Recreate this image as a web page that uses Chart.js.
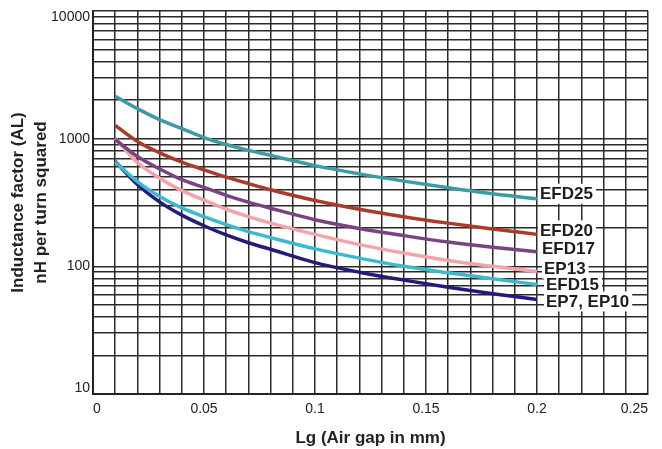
<!DOCTYPE html>
<html>
<head>
<meta charset="utf-8">
<script src="https://cdn.jsdelivr.net/npm/chart.js@4"></script>
<style>
  html, body { margin: 0; padding: 0; background: #ffffff; }
  #wrap { width: 662px; height: 449px; position: relative; }
</style>
</head>
<body>
<div id="wrap"><canvas id="c" width="662" height="449"></canvas></div>
<script>
// ---- Data ----
const airGap = [0.01, 0.02, 0.03, 0.04, 0.05, 0.06, 0.07, 0.08, 0.10, 0.12, 0.14, 0.16, 0.18, 0.20];
const seriesNames = ['EFD25', 'EFD20', 'EFD17', 'EP13', 'EFD15', 'EP7, EP10'];
const efd25 = [2150, 1720, 1410, 1200, 1020, 900, 810, 740, 615, 530, 465, 412, 370, 338];
const efd20 = [1270, 950, 775, 655, 570, 500, 445, 398, 328, 280, 245, 218, 196, 178];
const efd17 = [985, 725, 580, 477, 415, 360, 318, 285, 232, 198, 174, 155, 141, 130];
const ep13  = [1005, 650, 490, 392, 330, 280, 245, 218, 178, 148, 127, 111, 100, 91];
const efd15 = [660, 460, 352, 287, 245, 212, 187, 168, 137, 116, 100, 89, 80, 72];
const ep7ep10 = [665, 438, 320, 252, 208, 176, 153, 136, 107, 90, 78, 68.5, 61, 55];
const xTickLabels = ['0', '0.05', '0.1', '0.15', '0.2', '0.25'];
const yTickLabels = ['10', '100', '1000', '10000'];
const xTitle = 'Lg (Air gap in mm)';
const yTitle = ['Inductance factor (AL)', 'nH per turn squared'];

const seriesValues = [efd25, efd20, efd17, ep13, efd15, ep7ep10];
const seriesColors = ['#3d9ba7', '#a93b2a', '#7b4283', '#f4a3aa', '#3cb9cd', '#221b7c'];

// grid positions: every 0.01 on x, 1..9 x 10^n on y (log paper)
const xGrid = [];
for (let i = 0; i <= 25; i++) xGrid.push(+(i / 100).toFixed(2));
const yGrid = [];
for (let e = 1; e <= 3; e++) for (let m = 1; m <= 9; m++) yGrid.push(m * Math.pow(10, e));
yGrid.push(10000);

const FONT = "'Liberation Sans', Arial, Helvetica, sans-serif";

const endLabels = {
  id: 'endLabels',
  afterDatasetsDraw(chart, args, opts) {
    const ctx = chart.ctx;
    ctx.save();
    ctx.font = 'bold 17px ' + FONT;
    ctx.textBaseline = 'middle';
    const items = chart.data.datasets.map((ds, i) => {
      const meta = chart.getDatasetMeta(i);
      const pt = meta.data[meta.data.length - 1];
      return { text: ds.label, x: pt.x + opts.dx[i], y: pt.y + opts.dy[i], w: ctx.measureText(ds.label).width };
    });
    ctx.fillStyle = '#ffffff';
    items.forEach(it => ctx.fillRect(it.x - 2, it.y - 10, it.w + 5, 20));
    ctx.fillStyle = '#1c1c1c';
    items.forEach(it => ctx.fillText(it.text, it.x, it.y + 1));
    ctx.restore();
  }
};

new Chart(document.getElementById('c'), {
  type: 'line',
  data: {
    datasets: seriesValues.map((vals, i) => ({
      label: seriesNames[i],
      data: airGap.map((x, j) => ({ x: x, y: vals[j] })),
      borderColor: seriesColors[i],
      backgroundColor: seriesColors[i],
      borderWidth: 3.5,
      pointRadius: 0,
      cubicInterpolationMode: 'monotone',
      fill: false
    }))
  },
  options: {
    responsive: false,
    animation: false,
    devicePixelRatio: 1,
    layout: { padding: { left: 0, top: 11, right: 14, bottom: 0 } },
    plugins: {
      legend: { display: false },
      tooltip: { enabled: false },
      endLabels: { dx: [3, 3, 5, 7, 9, 9], dy: [-5, -4, -3, -3, 0, 2] }
    },
    scales: {
      x: {
        type: 'linear',
        min: 0,
        max: 0.25,
        afterBuildTicks: s => { s.ticks = xGrid.map(v => ({ value: v })); },
        afterFit: s => { s.height = 55; },
        border: { display: true, color: '#222', width: 2 },
        grid: { color: '#2a2a2a', lineWidth: 1.5, drawTicks: false },
        ticks: {
          autoSkip: false,
          maxRotation: 0,
          align: 'inner',
          padding: 7,
          color: '#222',
          font: { family: FONT, size: 14 },
          callback: v => {
            const s = String(+v.toFixed(2));
            return xTickLabels.includes(s) ? s : '';
          }
        },
        title: {
          display: true,
          text: xTitle,
          color: '#222',
          font: { family: FONT, size: 17, weight: 'bold' },
          padding: { top: 8, bottom: 0 }
        }
      },
      y: {
        type: 'logarithmic',
        min: 10,
        max: 10000,
        afterBuildTicks: s => { s.ticks = yGrid.map(v => ({ value: v })); },
        afterFit: s => { s.width = 93; s.paddingTop = 0; s.paddingBottom = 0; },
        border: { display: true, color: '#222', width: 2 },
        grid: { color: '#2a2a2a', lineWidth: 1.5, drawTicks: false },
        ticks: {
          autoSkip: false,
          padding: 3,
          color: '#222',
          font: { family: FONT, size: 14, lineHeight: 0.9 },
          callback: v => {
            const s = String(v);
            if (!yTickLabels.includes(s)) return '';
            // keep the end labels inside the plot, as on the reference
            if (s === yTickLabels[yTickLabels.length - 1]) return ['', s];
            if (s === yTickLabels[0]) return [s, ''];
            return s;
          }
        },
        title: {
          display: true,
          text: yTitle,
          color: '#222',
          font: { family: FONT, size: 17, weight: 'bold', lineHeight: 1.4 },
          padding: { top: 6, bottom: 4 }
        }
      }
    }
  },
  plugins: [endLabels]
});
</script>
</body>
</html>
